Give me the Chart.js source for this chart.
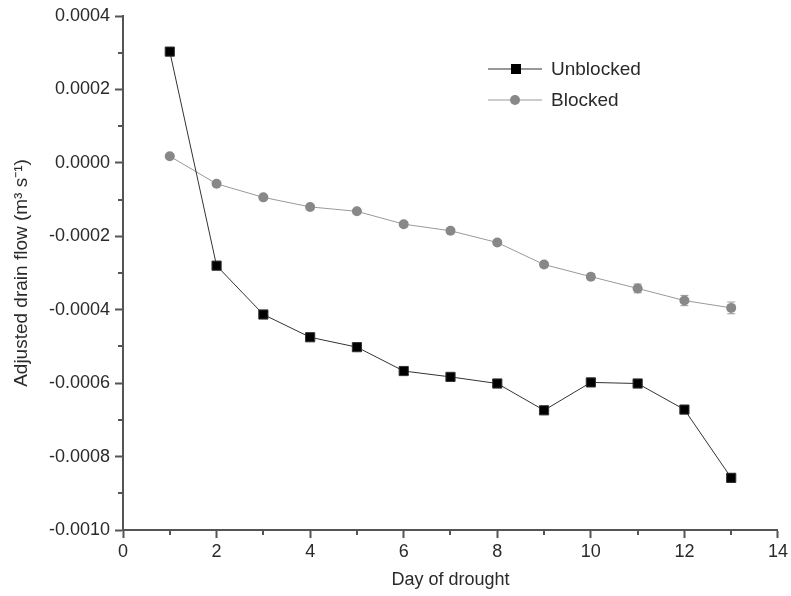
<!DOCTYPE html>
<html>
<head>
<meta charset="utf-8">
<script src="https://cdn.jsdelivr.net/npm/chart.js@4/dist/chart.umd.min.js"></script>
<style>
  html, body { margin: 0; padding: 0; background: #fff; }
  #wrap { width: 791px; height: 596px; }
</style>
</head>
<body>
<div id="wrap"><canvas id="c" width="791" height="596"></canvas></div>
<script>
const days = [1, 2, 3, 4, 5, 6, 7, 8, 9, 10, 11, 12, 13];
const unblocked = [0.000303, -0.000280, -0.000413, -0.000475, -0.000502, -0.000567, -0.000583, -0.000601, -0.000674, -0.000598, -0.000601, -0.000672, -0.000858];
const unblockedErr = [0.000008, 0.000005, 0.000005, 0.000006, 0.000005, 0.000008, 0.000008, 0.000006, 0.000009, 0.000006, 0.000006, 0.000007, 0.000012];
const blocked = [0.000018, -0.000057, -0.000094, -0.000120, -0.000132, -0.000167, -0.000185, -0.000217, -0.000277, -0.000310, -0.000342, -0.000375, -0.000395];
const blockedErr = [0.000004, 0.000005, 0.000005, 0.000005, 0.000005, 0.000006, 0.000006, 0.000007, 0.000007, 0.000008, 0.000012, 0.000014, 0.000016];
const xTicks = [0, 2, 4, 6, 8, 10, 12, 14];
const xMinorTicks = [1, 3, 5, 7, 9, 11, 13];
const yTicks = [0.0004, 0.0002, 0.0000, -0.0002, -0.0004, -0.0006, -0.0008, -0.0010];
const yMinorTicks = [0.0003, 0.0001, -0.0001, -0.0003, -0.0005, -0.0007, -0.0009];
const seriesNames = ['Unblocked', 'Blocked'];
const xTitle = 'Day of drought';
const yTitle = 'Adjusted drain flow (m³ s⁻¹)';

const FONT = '"Liberation Sans", Arial, sans-serif';
const AXIS = '#555';
const TEXT = '#2a2a2a';

const errs = [unblockedErr, blockedErr];

const extras = {
  id: 'extras',
  afterDatasetsDraw(chart) {
    const ctx = chart.ctx;
    const xs = chart.scales.x, ys = chart.scales.y;
    ctx.save();
    ctx.strokeStyle = AXIS;
    ctx.lineWidth = 2;
    const ca = chart.chartArea;
    xMinorTicks.forEach(v => {
      const px = Math.round(xs.getPixelForValue(v));
      ctx.beginPath(); ctx.moveTo(px, ca.bottom); ctx.lineTo(px, ca.bottom + 5); ctx.stroke();
    });
    yMinorTicks.forEach(v => {
      const py = Math.round(ys.getPixelForValue(v));
      ctx.beginPath(); ctx.moveTo(ca.left, py); ctx.lineTo(ca.left - 5, py); ctx.stroke();
    });
    ctx.restore();
  },
  beforeDatasetsDraw(chart) {
    const ctx = chart.ctx;
    const xs = chart.scales.x, ys = chart.scales.y;
    ctx.save();
    chart.data.datasets.forEach((ds, i) => {
      ctx.strokeStyle = ds.borderColor;
      ctx.lineWidth = 1;
      ds.data.forEach((p, j) => {
        const e = errs[i][j];
        const px = xs.getPixelForValue(p.x);
        const y1 = ys.getPixelForValue(p.y + e);
        const y2 = ys.getPixelForValue(p.y - e);
        ctx.beginPath();
        ctx.moveTo(px, y1); ctx.lineTo(px, y2);
        ctx.moveTo(px - 4, y1); ctx.lineTo(px + 4, y1);
        ctx.moveTo(px - 4, y2); ctx.lineTo(px + 4, y2);
        ctx.stroke();
      });
    });
    ctx.restore();
  },
  afterDraw(chart) {
    const ctx = chart.ctx;
    ctx.save();
    const rows = [69, 100];
    chart.data.datasets.forEach((ds, i) => {
      const y = rows[i];
      ctx.strokeStyle = ds.borderColor;
      ctx.lineWidth = 1;
      ctx.beginPath(); ctx.moveTo(488, y); ctx.lineTo(542, y); ctx.stroke();
      ctx.fillStyle = ds.pointBackgroundColor;
      if (ds.pointStyle === 'rect') {
        ctx.fillRect(511, y - 5, 10, 10);
      } else {
        ctx.beginPath(); ctx.arc(515, y, 5, 0, Math.PI * 2); ctx.fill();
      }
      ctx.fillStyle = TEXT;
      ctx.font = '19px ' + FONT;
      ctx.textBaseline = 'middle';
      ctx.textAlign = 'left';
      ctx.fillText(ds.label, 551, y + 1);
    });
    ctx.restore();
  }
};

new Chart(document.getElementById('c'), {
  type: 'line',
  data: {
    datasets: [
      {
        label: seriesNames[0],
        data: days.map((d, i) => ({ x: d, y: unblocked[i] })),
        borderColor: '#333',
        borderWidth: 1,
        pointStyle: 'rect',
        pointRadius: 6.5,
        pointBackgroundColor: '#000',
        pointBorderColor: '#333',
        pointBorderWidth: 1,
        tension: 0
      },
      {
        label: seriesNames[1],
        data: days.map((d, i) => ({ x: d, y: blocked[i] })),
        borderColor: '#999',
        borderWidth: 1,
        pointStyle: 'circle',
        pointRadius: 5,
        pointBackgroundColor: '#888',
        pointBorderColor: '#888',
        pointBorderWidth: 0,
        tension: 0
      }
    ]
  },
  options: {
    responsive: false,
    animation: false,
    devicePixelRatio: 1,
    layout: { padding: { top: 16, right: 10, left: 0, bottom: 0 } },
    plugins: { legend: { display: false }, tooltip: { enabled: false } },
    scales: {
      x: {
        type: 'linear',
        min: 0, max: 14,
        afterBuildTicks(scale) { scale.ticks = xTicks.map(v => ({ value: v })); },
        afterFit(scale) { scale.height = 66; },
        ticks: {
          color: TEXT,
          font: { family: FONT, size: 18 },
          padding: 3,
          maxRotation: 0,
          callback: v => String(v)
        },
        grid: { drawOnChartArea: false, drawTicks: true, tickLength: 8, tickWidth: 2, tickColor: AXIS },
        border: { display: true, color: AXIS, width: 2 },
        title: { display: true, text: xTitle, color: TEXT, font: { family: FONT, size: 18 }, padding: { top: 0, bottom: 5 } }
      },
      y: {
        type: 'linear',
        min: -0.001, max: 0.0004,
        afterBuildTicks(scale) { scale.ticks = yTicks.map(v => ({ value: v })); },
        afterFit(scale) { scale.width = 123; },
        ticks: {
          color: TEXT,
          font: { family: FONT, size: 18 },
          padding: 5,
          callback: v => (Math.abs(v) < 1e-12 ? 0 : v).toFixed(4)
        },
        grid: { drawOnChartArea: false, drawTicks: true, tickLength: 8, tickWidth: 2, tickColor: AXIS },
        border: { display: true, color: AXIS, width: 2 },
        title: { display: true, text: yTitle, color: TEXT, font: { family: FONT, size: 19 }, padding: { top: 10, bottom: 0 } }
      }
    }
  },
  plugins: [extras]
});
</script>
</body>
</html>
